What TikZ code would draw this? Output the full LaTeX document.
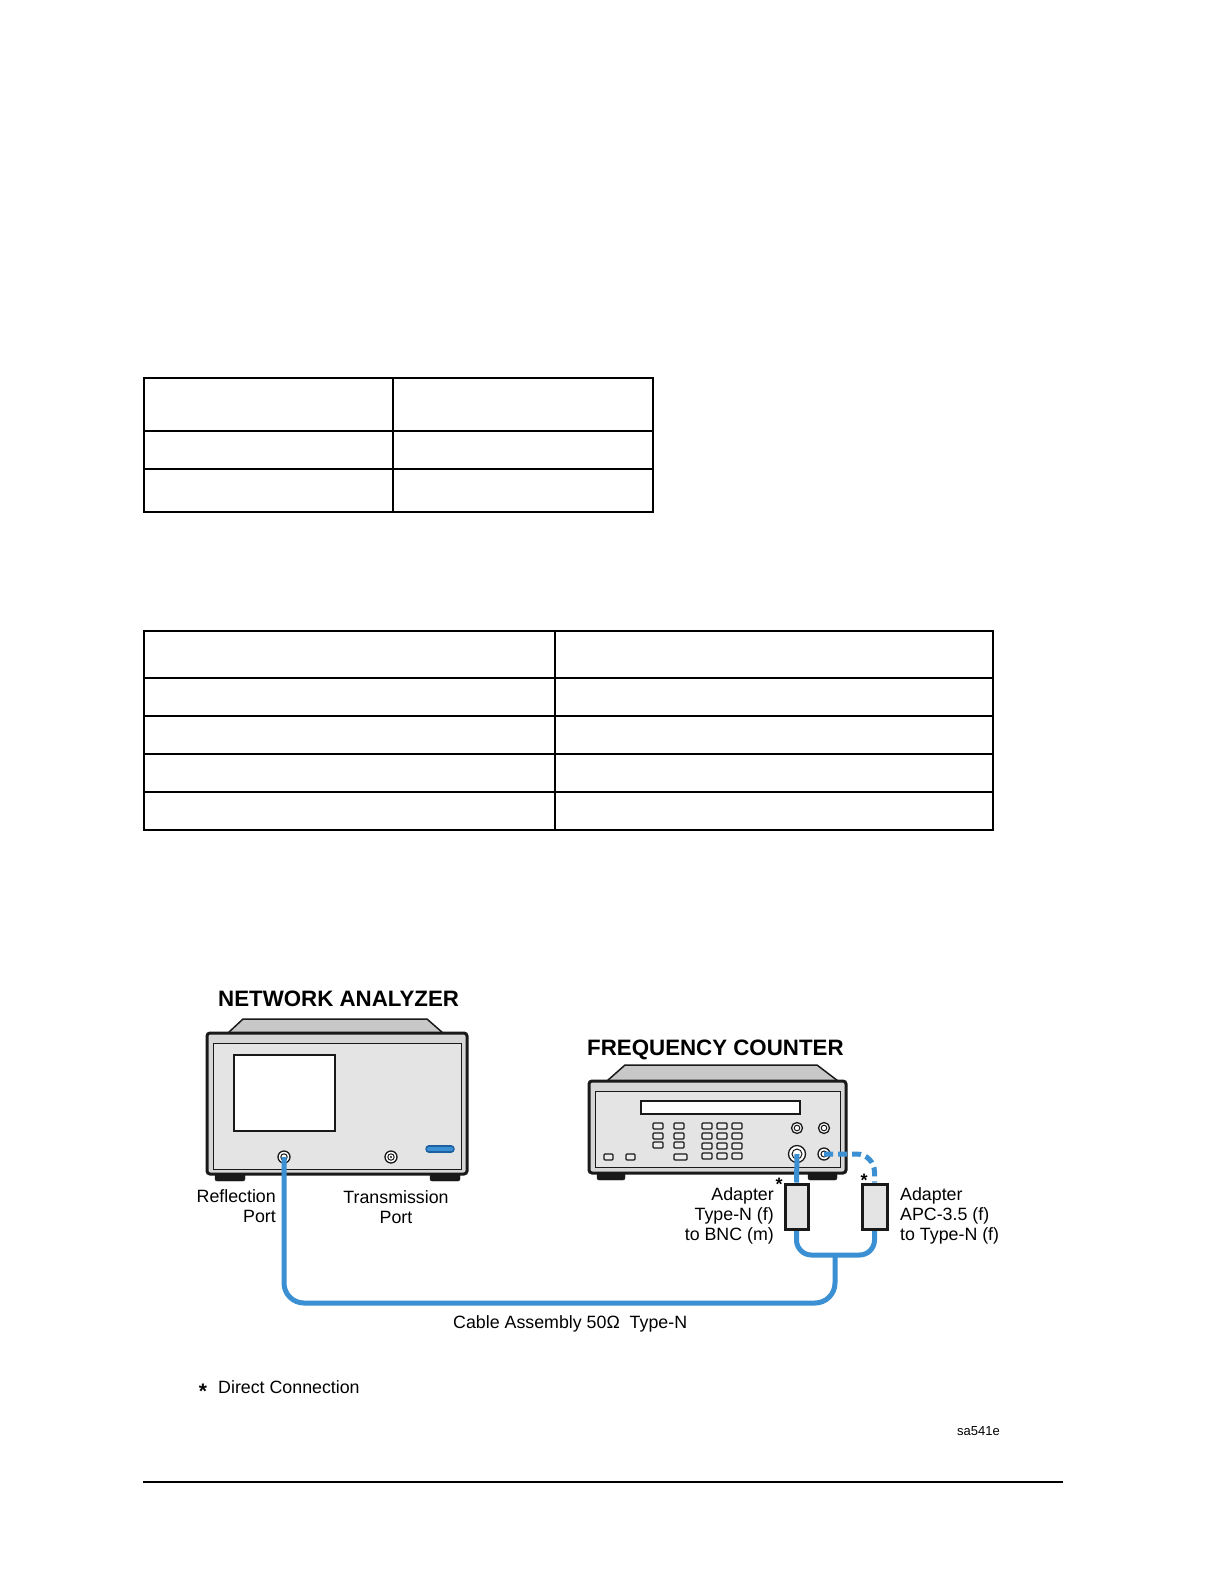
\documentclass[tikz,border=0pt]{standalone}
\usepackage{fontspec}
\setmainfont{Liberation Sans}
\definecolor{cableblue}{RGB}{58,144,210}
\definecolor{cabledark}{RGB}{30,95,160}
\definecolor{panelgray}{RGB}{228,228,228}
\definecolor{bodygray}{RGB}{214,214,214}
\definecolor{topgray}{RGB}{200,200,200}
\definecolor{ink}{RGB}{25,25,25}
\tikzset{
  tbl/.style={line width=1.4, draw=black},
  outline/.style={draw=ink, line width=1.5},
  bodybox/.style={fill=bodygray, draw=ink, line width=3, rounded corners=3},
  panelbox/.style={fill=panelgray, draw=ink, line width=1},
  screenbox/.style={fill=white, draw=ink, line width=1.3},
  btn/.style={draw=ink, line width=1.2, fill=white!92!black, rounded corners=1},
  foot/.style={fill=ink, draw=ink, rounded corners=2},
  portring/.style={circle, draw=ink, line width=1.3, fill=white, inner sep=0},
  cable/.style={draw=cableblue, line width=5},
  dashcable/.style={draw=cableblue, line width=5, dash pattern=on 9pt off 5pt},
  adapterbox/.style={fill=panelgray, draw=ink, line width=3, minimum width=23, minimum height=45, inner sep=0},
  lbl/.style={font=\fontsize{17.8}{20}\selectfont, inner sep=0},
  ttl/.style={font=\bfseries\fontsize{22.3}{26}\selectfont, inner sep=0},
  small/.style={font=\fontsize{13}{15}\selectfont, inner sep=0},
  starlbl/.style={font=\bfseries\fontsize{18}{20}\selectfont, inner sep=0, anchor=base}
}
\begin{document}
\begin{tikzpicture}[x=1pt,y=-1pt]
\useasboundingbox (0,0) rectangle (1224,1582);
\fill[white] (0,0) rectangle (1224,1582);

% ---------- Table 1 ----------
\draw[tbl] (144,378) rectangle (653,512);
\draw[tbl] (393,378) -- (393,512);
\draw[tbl] (144,431) -- (653,431);
\draw[tbl] (144,469) -- (653,469);

% ---------- Table 2 ----------
\draw[tbl] (144,631) rectangle (993,830);
\draw[tbl] (555,631) -- (555,830);
\foreach \yy in {678,716,754,792} \draw[tbl] (144,\yy) -- (993,\yy);

% ---------- Network analyzer ----------
\node[ttl, anchor=base west] (natitle) at (218,1006) {NETWORK ANALYZER};
\draw[foot] (215,1170) rectangle (245,1181);
\draw[foot] (430,1170) rectangle (460,1181);
\draw[outline, fill=topgray] (243,1019) -- (427,1019) -- (443,1033) -- (228,1033) -- cycle;
\draw[bodybox] (207,1033) rectangle (467,1174);
\draw[panelbox] (213,1043) rectangle (461,1169);
\draw[screenbox] (234,1055) rectangle (335,1131);
\node[portring, minimum size=12] (refl) at (284,1157) {};
\draw[ink, line width=1] (refl.center) circle (3.2);
\node[portring, minimum size=12] (trans) at (391,1157) {};
\draw[ink, line width=1] (trans.center) circle (3.2);
\fill[ink] (trans.center) circle (1.2);
\coordinate (jl) at (429,1149);
\coordinate (jr) at (451,1149);
\draw[cabledark, line width=7.5, line cap=round] (jl) -- (jr);
\draw[cableblue, line width=4.5, line cap=round] (jl) -- (jr);
\node[lbl, anchor=base east] (reflA) at (276,1202) {Reflection};
\node[lbl, anchor=base east] (reflB) at (276,1222) {Port};
\node[lbl, anchor=base] (transA) at (396,1203) {Transmission};
\node[lbl, anchor=base] (transB) at (396,1223) {Port};

% ---------- Frequency counter ----------
\node[ttl, anchor=base west] (fctitle) at (587,1055) {FREQUENCY COUNTER};
\draw[foot] (597,1169) rectangle (625,1180);
\draw[foot] (808,1169) rectangle (837,1180);
\draw[outline, fill=topgray] (625,1065) -- (817,1065) -- (838,1081) -- (607,1081) -- cycle;
\draw[bodybox] (589,1081) rectangle (846,1173);
\draw[panelbox] (595,1091) rectangle (840,1167);
\draw[screenbox] (641,1101) rectangle (800,1114);
\foreach \xx in {653,674} \foreach \yy in {1123,1133,1142} \draw[btn] (\xx,\yy) rectangle ++(10,6);
\foreach \xx in {702,717,732} \foreach \yy in {1123,1133,1143,1153} \draw[btn] (\xx,\yy) rectangle ++(10,6);
\draw[btn] (674,1154) rectangle (687,1160);
\draw[btn] (604,1154) rectangle (613,1160);
\draw[btn] (626,1154) rectangle (635,1160);
\node[portring, minimum size=11] (fcp1) at (797,1128) {};
\draw[ink, line width=1] (fcp1.center) circle (2.8);
\node[portring, minimum size=11] (fcp2) at (824,1128) {};
\draw[ink, line width=1] (fcp2.center) circle (2.8);
\node[portring, minimum size=17] (fcin) at (797,1154) {};
\draw[ink, line width=1] (fcin.center) circle (5);
\node[portring, minimum size=12] (fcext) at (824,1154) {};
\draw[ink, line width=1] (fcext.center) circle (3);

% ---------- Cables ----------
\coordinate (junc) at (835,1255);
\coordinate (jbot) at (835,1303);
\coordinate (cbot) at (284,1303);
\node[adapterbox] (ad1) at (796.5,1206.5) {};
\node[adapterbox, minimum width=25] (ad2) at (874.5,1206.5) {};
\draw[cable] (fcin.center) -- (ad1.north);
\draw[dashcable, rounded corners=18] (fcext.center) -| (ad2.north);
\draw[cable, rounded corners=15] (ad1.south) |- (junc) -| (ad2.south);
\draw[cable, rounded corners=20] (junc) -- (jbot) -- (cbot) -- (refl.center);
% redraw adapters on top of cable ends
\node[adapterbox] (ad1b) at (ad1) {};
\node[adapterbox, minimum width=25] (ad2b) at (ad2) {};
\node[starlbl] (star1) at (779,1190) {*};
\node[starlbl] (star2) at (864,1186) {*};

\node[lbl, anchor=base east] (adLa) at (774,1200) {Adapter};
\node[lbl, anchor=base east] (adLb) at (774,1220) {Type-N (f)};
\node[lbl, anchor=base east] (adLc) at (774,1240) {to BNC (m)};
\node[lbl, anchor=base west] (adRa) at (900,1200) {Adapter};
\node[lbl, anchor=base west] (adRb) at (900,1220) {APC-3.5 (f)};
\node[lbl, anchor=base west] (adRc) at (900,1240) {to Type-N (f)};

\node[lbl, anchor=base west] (cablelbl) at (453,1328) {Cable Assembly 50Ω\ \ Type-N};
\node[starlbl, font=\bfseries\fontsize{21}{22}\selectfont] (star3) at (203,1398) {*};
\node[lbl, anchor=base west] (direct) at (218,1393) {Direct Connection};
\node[small, anchor=base west] (code) at (957,1435) {sa541e};

% ---------- Bottom rule ----------
\draw[black, line width=2] (143,1482) -- (1063,1482);
\end{tikzpicture}
\end{document}
